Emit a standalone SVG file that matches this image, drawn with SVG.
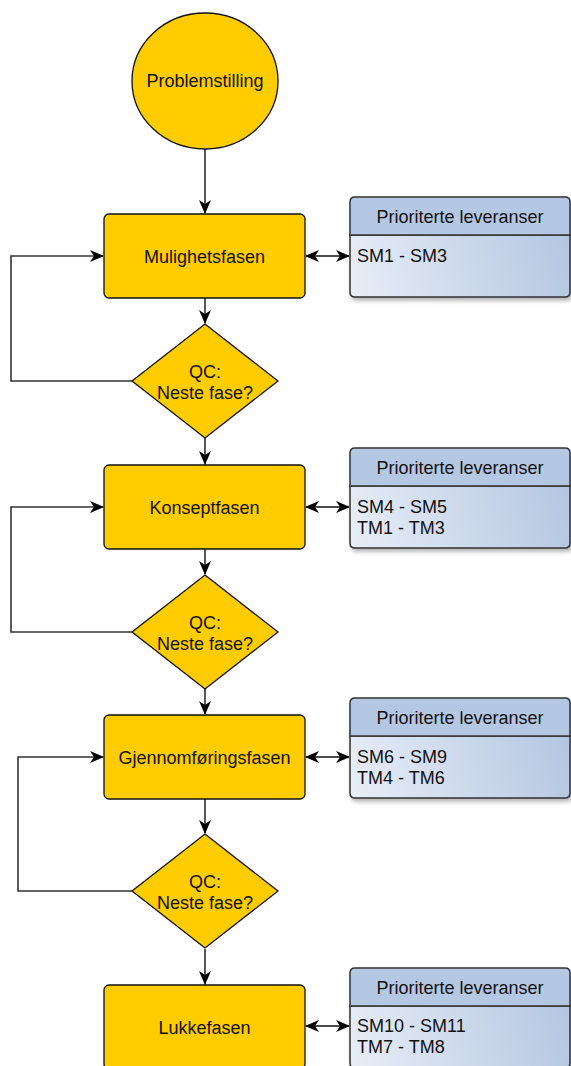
<svg xmlns="http://www.w3.org/2000/svg" width="571" height="1066" viewBox="0 0 571 1066">
<defs>
<marker id="arr" viewBox="0 0 14 12" markerWidth="14" markerHeight="12" refX="13" refY="6" orient="auto" markerUnits="userSpaceOnUse">
<path d="M0,0 L14,6 L0,12 L4,6 Z" fill="#000"/>
</marker>
<marker id="arrs" viewBox="0 0 14 12" markerWidth="14" markerHeight="12" refX="1" refY="6" orient="auto" markerUnits="userSpaceOnUse">
<path d="M14,0 L0,6 L14,12 L10,6 Z" fill="#000"/>
</marker>
<linearGradient id="bg1" gradientUnits="userSpaceOnUse" x1="350" y1="297" x2="570" y2="235">
<stop offset="0" stop-color="#e8eef7"/>
<stop offset="1" stop-color="#b3c6e1"/>
</linearGradient>
<linearGradient id="bg2" href="#bg1" x1="350" y1="548" x2="570" y2="486"/>
<linearGradient id="bg3" href="#bg1" x1="350" y1="798" x2="570" y2="736"/>
<linearGradient id="bg4" href="#bg1" x1="350" y1="1068" x2="570" y2="1006"/>
<filter id="sh" x="-10%" y="-10%" width="130%" height="130%">
<feGaussianBlur in="SourceAlpha" stdDeviation="2"/>
<feOffset dx="2" dy="3" result="b"/>
<feComponentTransfer><feFuncA type="linear" slope="0.3"/></feComponentTransfer>
<feMerge><feMergeNode/><feMergeNode in="SourceGraphic"/></feMerge>
</filter>
</defs>
<style>
text{font-family:"Liberation Sans",Arial,sans-serif;font-size:18px;fill:#111}
.c{text-anchor:middle}
.y{fill:#ffcc00;stroke:#111;stroke-width:1.3}
.line{fill:none;stroke:#111;stroke-width:1.4}
.loop{fill:none;stroke:#333;stroke-width:1.6}
.bb{stroke:#333;stroke-width:1.5}
.hd{fill:#b5c8e3}
</style>

<g id="connectors">
<path class="line" d="M205,149 L205,213" marker-end="url(#arr)"/>
<path class="line" d="M205,298 L205,323" marker-end="url(#arr)"/>
<path class="line" d="M205,438 L205,464" marker-end="url(#arr)"/>
<path class="line" d="M205,549 L205,574" marker-end="url(#arr)"/>
<path class="line" d="M205,689 L205,714" marker-end="url(#arr)"/>
<path class="line" d="M205,799 L205,833" marker-end="url(#arr)"/>
<path class="line" d="M205,949 L205,984" marker-end="url(#arr)"/>
<path class="loop" d="M132,381 L11,381 L11,256 L103,256" marker-end="url(#arr)"/>
<path class="loop" d="M132,632 L11,632 L11,507 L103,507" marker-end="url(#arr)"/>
<path class="loop" d="M132,891 L18,891 L18,757 L103,757" marker-end="url(#arr)"/>
<path class="line" d="M306,256 L349,256" marker-start="url(#arrs)" marker-end="url(#arr)"/>
<path class="line" d="M306,507 L349,507" marker-start="url(#arrs)" marker-end="url(#arr)"/>
<path class="line" d="M306,757 L349,757" marker-start="url(#arrs)" marker-end="url(#arr)"/>
<path class="line" d="M306,1026 L349,1026" marker-start="url(#arrs)" marker-end="url(#arr)"/>
</g>

<g id="start">
<ellipse class="y" cx="205" cy="81" rx="73" ry="68"/>
<text class="c" x="205" y="87">Problemstilling</text>
</g>

<g id="phase1">
<rect class="y" x="104" y="214" width="201" height="84" rx="5"/>
<text class="c" x="204.5" y="263">Mulighetsfasen</text>
</g>
<g id="qc1">
<polygon class="y" points="205,324 278,381 205,438 132,381"/>
<text class="c" x="205" y="378">QC:</text>
<text class="c" x="205" y="399">Neste fase?</text>
</g>
<g id="list1">
<g filter="url(#sh)">
<path class="bb" fill="url(#bg1)" d="M350,235 L570,235 L570,292 Q570,297 565,297 L355,297 Q350,297 350,292 Z"/>
<path class="bb hd" d="M350,235 L350,202 Q350,197 355,197 L565,197 Q570,197 570,202 L570,235 Z"/>
</g>
<text class="c" x="460" y="223">Prioriterte leveranser</text>
<text x="357" y="262">SM1 - SM3</text>
</g>

<g id="phase2">
<rect class="y" x="104" y="465" width="201" height="84" rx="5"/>
<text class="c" x="204.5" y="514">Konseptfasen</text>
</g>
<g id="qc2">
<polygon class="y" points="205,575 278,632 205,689 132,632"/>
<text class="c" x="205" y="629">QC:</text>
<text class="c" x="205" y="650">Neste fase?</text>
</g>
<g id="list2">
<g filter="url(#sh)">
<path class="bb" fill="url(#bg2)" d="M350,486 L570,486 L570,543 Q570,548 565,548 L355,548 Q350,548 350,543 Z"/>
<path class="bb hd" d="M350,486 L350,453 Q350,448 355,448 L565,448 Q570,448 570,453 L570,486 Z"/>
</g>
<text class="c" x="460" y="474">Prioriterte leveranser</text>
<text x="357" y="513">SM4 - SM5</text>
<text x="357" y="534">TM1 - TM3</text>
</g>

<g id="phase3">
<rect class="y" x="104" y="715" width="201" height="84" rx="5"/>
<text class="c" x="204.5" y="764">Gjennomføringsfasen</text>
</g>
<g id="qc3">
<polygon class="y" points="205,834 278,891 205,948 132,891"/>
<text class="c" x="205" y="888">QC:</text>
<text class="c" x="205" y="909">Neste fase?</text>
</g>
<g id="list3">
<g filter="url(#sh)">
<path class="bb" fill="url(#bg3)" d="M350,736 L570,736 L570,793 Q570,798 565,798 L355,798 Q350,798 350,793 Z"/>
<path class="bb hd" d="M350,736 L350,703 Q350,698 355,698 L565,698 Q570,698 570,703 L570,736 Z"/>
</g>
<text class="c" x="460" y="724">Prioriterte leveranser</text>
<text x="357" y="763">SM6 - SM9</text>
<text x="357" y="784">TM4 - TM6</text>
</g>

<g id="phase4">
<rect class="y" x="104" y="985" width="201" height="84" rx="5"/>
<text class="c" x="204.5" y="1034">Lukkefasen</text>
</g>
<g id="list4">
<g filter="url(#sh)">
<path class="bb" fill="url(#bg4)" d="M350,1006 L570,1006 L570,1063 Q570,1068 565,1068 L355,1068 Q350,1068 350,1063 Z"/>
<path class="bb hd" d="M350,1006 L350,973 Q350,968 355,968 L565,968 Q570,968 570,973 L570,1006 Z"/>
</g>
<text class="c" x="460" y="994">Prioriterte leveranser</text>
<text x="357" y="1032">SM10 - SM11</text>
<text x="357" y="1053">TM7 - TM8</text>
</g>
</svg>
